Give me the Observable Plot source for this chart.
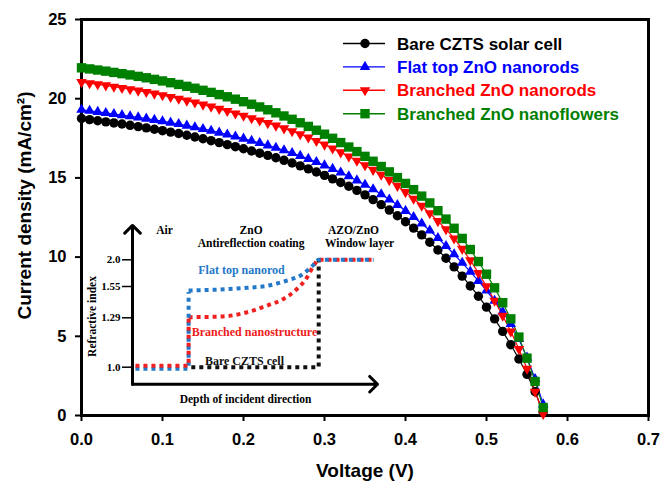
<!DOCTYPE html>
<html>
<head>
<meta charset="utf-8">
<script src="https://cdn.jsdelivr.net/npm/d3@7"></script>
<script src="https://cdn.jsdelivr.net/npm/@observablehq/plot@0.6"></script>
<style>
  body { margin: 0; background: #fff; }
  #wrap { position: relative; width: 662px; height: 485px; }
  #inset { position: absolute; left: 85px; top: 215px; }
</style>
</head>
<body>
<div id="wrap"></div>
<script>
// ---------------- main chart data ----------------
const voltage = [0.00,0.01,0.02,0.03,0.04,0.05,0.06,0.07,0.08,0.09,0.10,0.11,0.12,0.13,0.14,0.15,0.16,0.17,0.18,0.19,
  0.20,0.21,0.22,0.23,0.24,0.25,0.26,0.27,0.28,0.29,0.30,0.31,0.32,0.33,0.34,0.35,0.36,0.37,0.38,0.39,
  0.40,0.41,0.42,0.43,0.44,0.45,0.46,0.47,0.48,0.49,0.50,0.51,0.52,0.53,0.54,0.55,0.56,0.57];

const bareCZTS = [18.75,18.68,18.61,18.54,18.47,18.40,18.32,18.24,18.16,18.07,17.98,17.89,17.80,17.69,17.58,17.47,17.35,17.23,17.10,16.97,
  16.84,16.70,16.56,16.42,16.27,16.11,15.94,15.76,15.57,15.37,15.16,14.94,14.71,14.47,14.21,13.93,13.63,13.31,12.97,12.61,
  12.23,11.83,11.40,10.94,10.45,9.93,9.38,8.80,8.18,7.53,6.84,6.10,5.31,4.47,3.57,2.60,1.50,0.20];

const flatTopRods = [19.30,19.24,19.17,19.10,19.03,18.96,18.89,18.82,18.74,18.66,18.58,18.49,18.40,18.30,18.20,18.09,17.98,17.86,17.74,17.61,
  17.48,17.34,17.20,17.05,16.90,16.74,16.57,16.39,16.20,16.00,15.79,15.57,15.34,15.10,14.84,14.57,14.28,13.97,13.64,13.29,
  12.92,12.53,12.12,11.68,11.20,10.70,10.18,9.64,9.08,8.50,7.89,7.24,6.54,5.78,4.83,3.65,2.30,0.70];

const branchedRods = [21.05,20.98,20.91,20.84,20.76,20.68,20.60,20.51,20.42,20.32,20.22,20.11,20.00,19.88,19.76,19.63,19.50,19.36,19.22,19.07,
  18.92,18.77,18.62,18.46,18.30,18.13,17.95,17.76,17.55,17.33,17.10,16.86,16.61,16.35,16.08,15.80,15.51,15.20,14.86,14.50,
  14.10,13.68,13.24,12.77,12.27,11.76,11.18,10.52,9.80,9.00,8.15,7.25,6.30,5.30,4.20,2.95,1.50,0.10];

const branchedFlowers = [21.95,21.88,21.81,21.74,21.66,21.58,21.50,21.41,21.32,21.22,21.12,21.01,20.90,20.78,20.66,20.53,20.40,20.26,20.12,19.97,
  19.81,19.65,19.48,19.30,19.11,18.91,18.70,18.48,18.25,18.01,17.76,17.50,17.23,16.95,16.66,16.36,16.05,15.72,15.38,15.02,
  14.65,14.26,13.85,13.42,12.93,12.40,11.82,11.18,10.48,9.72,8.92,8.06,7.12,6.10,4.95,3.62,2.15,0.50];

const seriesNames = ["Bare CZTS solar cell", "Flat top ZnO nanorods", "Branched ZnO nanorods", "Branched ZnO nanoflowers"];
const seriesValues = [bareCZTS, flatTopRods, branchedRods, branchedFlowers];

const xTicks = [0, 0.1, 0.2, 0.3, 0.4, 0.5, 0.6, 0.7];
const yTicks = [0, 5, 10, 15, 20, 25];
const xTitle = "Voltage (V)";
const yTitle = "Current density (mA/cm²)";

// ---------------- inset (schematic) data ----------------
const insetTicks = [1.0, 1.29, 1.55, 2.0];
const insetTickLabels = ["1.0", "1.29", "1.55", "2.0"];
const insetAxisDepth = [0, 10];
const insetAxisIndex = [0.9, 2.58];

const blueStepDepth = [0.12, 2.29, 2.29];
const blueStepIndex = [1.0, 1.0, 1.517];
const blueCurveDepth = [2.29, 3.59, 4.68, 5.5, 6.31, 6.86, 7.4, 7.6, 9.84];
const blueCurveIndex = [1.517, 1.525, 1.539, 1.562, 1.651, 1.735, 1.92, 2.0, 2.0];

const redStepDepth = [0.12, 2.29, 2.29];
const redStepIndex = [1.0, 1.0, 1.295];
const redCurveDepth = [2.29, 3.59, 4.68, 5.5, 6.18, 6.72, 7.13, 7.4, 7.6, 9.84];
const redCurveIndex = [1.295, 1.30, 1.336, 1.392, 1.449, 1.531, 1.707, 1.904, 2.0, 2.0];

const blackStepDepth = [2.4, 7.6, 7.6];
const blackStepIndex = [1.0, 1.0, 2.0];

const insetLabels = ["Air", "ZnO", "Antireflection coating", "AZO/ZnO", "Window layer"];
const insetLabelDepth = [1.31, 4.84, 4.84, 9.02, 9.27];
const insetLabelIndex = [2.49, 2.49, 2.27, 2.49, 2.27];

const profileLabels = ["Flat top nanorod", "Branched nanostructure", "Bare CZTS cell"];
const profileLabelDepth = [4.45, 4.98, 4.57];
const profileLabelIndex = [1.83, 1.205, 1.034];

const insetXTitle = "Depth of incident direction";
const insetYTitle = "Refractive index";

// ---------------- styles ----------------
const seriesStyle = [
  {color: "#000000", symbol: "circle", r: 4.7, rotate: 0},
  {color: "#0000ff", symbol: "triangle", r: 3.9, rotate: 0},
  {color: "#ff0000", symbol: "triangle", r: 3.9, rotate: 180},
  {color: "#008000", symbol: "square", r: 5.3, rotate: 0}
];
const profileColors = ["#2378c8", "#ee2020", "#111111"];
const sans = "'Liberation Sans', Arial, Helvetica, sans-serif";
const serif = "'Liberation Serif', 'Times New Roman', serif";

// ---------------- main chart ----------------
const seriesMarks = [];
seriesValues.forEach((vals, i) => {
  const rows = vals.map((j, k) => ({v: voltage[k], j}));
  const st = seriesStyle[i];
  seriesMarks.push(Plot.line(rows, {x: "v", y: "j", stroke: st.color, strokeWidth: 1.2}));
});
const dotMarks = seriesValues.map((vals, i) => {
  const rows = vals.map((j, k) => ({v: voltage[k], j}));
  const st = seriesStyle[i];
  return Plot.dot(rows, {x: "v", y: "j", symbol: st.symbol, r: st.r, fill: st.color, stroke: "none", rotate: st.rotate});
});

const main = Plot.plot({
  width: 662,
  height: 485,
  marginLeft: 81,
  marginRight: 14,
  marginTop: 19,
  marginBottom: 70,
  x: {domain: [0, 0.7]},
  y: {domain: [0, 25]},
  style: {fontFamily: sans, fontWeight: "bold", fontSize: "16px", color: "#000", background: "white", overflow: "visible"},
  marks: [
    Plot.axisX({ticks: xTicks, tickFormat: d3.format(".1f"), tickSize: 6, tickPadding: 12, strokeWidth: 2, label: null, fontSize: 16.5, fontWeight: "bold"}),
    Plot.axisY({ticks: yTicks, tickSize: 6, tickPadding: 9, strokeWidth: 2, label: null, fontSize: 16.5, fontWeight: "bold"}),
    ...seriesMarks,
    Plot.frame({stroke: "black", strokeWidth: 3}),
    ...dotMarks,
    Plot.text([yTitle], {frameAnchor: "left", textAnchor: "middle", lineAnchor: "middle", dx: -57, dy: -12, rotate: -90, fontSize: 19, fontWeight: "bold", fill: "black"}),
    Plot.text([xTitle], {frameAnchor: "bottom", textAnchor: "middle", lineAnchor: "middle", dy: 55, fontSize: 19, fontWeight: "bold", fill: "black"})
  ]
});
document.getElementById("wrap").appendChild(main);

// ---------------- legend ----------------
const symbolMap = {circle: d3.symbolCircle, triangle: d3.symbolTriangle, square: d3.symbolSquare};
const legend = d3.select("#wrap").append("svg")
  .attr("width", 320).attr("height", 105)
  .style("position", "absolute").style("left", "335px").style("top", "30px")
  .style("overflow", "visible");
seriesNames.forEach((name, i) => {
  const st = seriesStyle[i];
  const g = legend.append("g").attr("transform", `translate(0,${13.5 + i * 23.4})`);
  g.append("line").attr("x1", 8).attr("x2", 50).attr("stroke", st.color).attr("stroke-width", 1.4);
  g.append("path")
    .attr("d", d3.symbol(symbolMap[st.symbol], Math.PI * st.r * st.r)())
    .attr("transform", `translate(30,0) rotate(${st.rotate})`)
    .attr("fill", st.color);
  g.append("text").attr("x", 62).attr("dy", "0.36em").text(name)
    .attr("fill", st.color)
    .style("font-family", sans).style("font-weight", "bold").style("font-size", "17px");
});

// ---------------- inset ----------------
const pts = (xs, ys) => xs.map((x, i) => ({d: x, n: ys[i]}));
const dash = "4,4";
const dotted = {x: "d", y: "n", strokeWidth: 4, strokeDasharray: dash, strokeLinecap: "butt", strokeLinejoin: "miter"};
const inset = Plot.plot({
  width: 300,
  height: 195,
  marginLeft: 47,
  marginRight: 8,
  marginTop: 10,
  marginBottom: 27,
  x: {domain: [0, 10], axis: null},
  y: {type: "linear", domain: insetTicks, range: [151.7, 102.3, 71, 44.3], axis: null},
  style: {fontFamily: serif, fontWeight: "bold", fontSize: "11px", color: "#000", background: "transparent", overflow: "visible"},
  marks: [
    Plot.axisY({ticks: insetTicks, tickFormat: d => insetTickLabels[insetTicks.indexOf(d)], tickSize: 10, tickPadding: 2, strokeWidth: 1.5, label: null, fontSize: 11, fontFamily: serif, fontWeight: "bold"}),
    Plot.arrow([0], {x1: () => insetAxisDepth[0], y1: () => insetAxisIndex[0], x2: () => insetAxisDepth[0], y2: () => insetAxisIndex[1], stroke: "black", strokeWidth: 3, headLength: 5.5, headAngle: 90}),
    Plot.arrow([0], {x1: () => insetAxisDepth[0], y1: () => insetAxisIndex[0], x2: () => insetAxisDepth[1], y2: () => insetAxisIndex[0], stroke: "black", strokeWidth: 3, headLength: 5.5, headAngle: 90}),
    Plot.line(pts(blackStepDepth, blackStepIndex), {...dotted, stroke: profileColors[2]}),
    Plot.line(pts(redCurveDepth, redCurveIndex), {...dotted, curve: "monotone-x", stroke: profileColors[1]}),
    Plot.line(pts(blueCurveDepth, blueCurveIndex), {...dotted, curve: "monotone-x", stroke: profileColors[0]}),
    Plot.line(pts(blueStepDepth, blueStepIndex), {...dotted, stroke: profileColors[0], dy: 1.5}),
    Plot.line(pts(redStepDepth, redStepIndex), {...dotted, stroke: profileColors[1], dy: -1.5}),
    Plot.text(insetLabels, {x: (d, i) => insetLabelDepth[i], y: (d, i) => insetLabelIndex[i], text: d => d, fontSize: 11.5, fontWeight: "bold", fill: "black"}),
    Plot.text(profileLabels, {x: (d, i) => profileLabelDepth[i], y: (d, i) => profileLabelIndex[i], text: d => d, fontSize: 12, fontWeight: "bold", fill: (d, i) => profileColors[i]}),
    Plot.text([insetXTitle], {frameAnchor: "bottom", textAnchor: "middle", lineAnchor: "middle", dx: -9.5, dy: 16, fontSize: 11.5, fontWeight: "bold", fill: "black"}),
    Plot.text([insetYTitle], {frameAnchor: "left", textAnchor: "middle", lineAnchor: "middle", dx: -40, dy: 12, rotate: -90, fontSize: 11.5, fontWeight: "bold", fill: "black"})
  ]
});
inset.id = "inset";
document.getElementById("wrap").appendChild(inset);
</script>
</body>
</html>
